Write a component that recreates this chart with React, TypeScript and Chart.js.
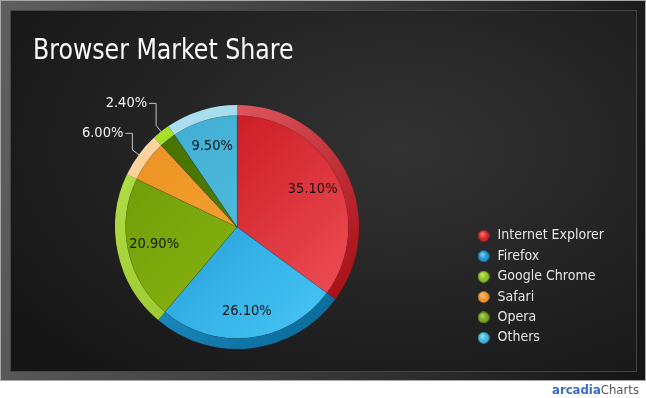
import React, { useEffect, useRef } from 'react';
import { Chart, registerables } from 'chart.js';

Chart.register(...registerables);

// ---- data ----
const TITLE = 'Browser Market Share';
const BROWSERS = ['Internet Explorer', 'Firefox', 'Google Chrome', 'Safari', 'Opera', 'Others'];
const SHARES = [35.1, 26.1, 20.9, 6.0, 2.4, 9.5];
const BRAND_A = 'arcadia';
const BRAND_B = 'Charts';

// ---- styles ----
const INNER_DARK = ['#c4121a', '#1a92d0', '#6e9a08', '#ec9222', '#467200', '#40acd2'];
const INNER_LIGHT = ['#ee4e56', '#46c4f4', '#92c012', '#f8ae3e', '#558600', '#5acae8'];
const RIM_LIGHT = ['#ea646c', '#2ea4dc', '#b2de46', '#fdd4a2', '#a6e22a', '#aee0f0'];
const RIM_DARK = ['#a60e14', '#0a6c9c', '#8cba1e', '#f4b070', '#88c012', '#7ec8e0'];
const LEGEND_BASE = ['#d22626', '#1e94d0', '#8cc020', '#f0902c', '#76a618', '#3eb6dc'];
const LEGEND_HI = ['#f87a7a', '#7cd0f6', '#c4e86a', '#fcc080', '#b0d85a', '#8adcf4'];

const FONT = '"DejaVu Sans Condensed", "DejaVu Sans", sans-serif';
const R_OUT = 122;
const RIM = 10.5;

const grad = (from: string[], to: string[]) => (c: any) => {
  const chart = c.chart;
  const a = chart.chartArea;
  if (!a) return to[c.dataIndex];
  const cx = (a.left + a.right) / 2;
  const cy = (a.top + a.bottom) / 2;
  const k = R_OUT * 0.75;
  const g = chart.ctx.createLinearGradient(cx - k, cy - k, cx + k, cy + k);
  g.addColorStop(0, from[c.dataIndex]);
  g.addColorStop(1, to[c.dataIndex]);
  return g;
};

function makeMarker(base: string, hi: string) {
  const cv = document.createElement('canvas');
  cv.width = 12;
  cv.height = 12;
  const c = cv.getContext('2d')!;
  const g = c.createRadialGradient(4.5, 3.8, 0.5, 6, 6, 6);
  g.addColorStop(0, hi);
  g.addColorStop(0.65, base);
  g.addColorStop(1, base);
  c.fillStyle = g;
  c.beginPath();
  c.arc(6, 6, 5.7, 0, Math.PI * 2);
  c.fill();
  return cv;
}

const titlePlugin = {
  id: 'panelTitle',
  afterDraw(chart: any) {
    const c = chart.ctx;
    c.save();
    c.font = `28px ${FONT}`;
    c.fillStyle = '#fafafa';
    c.textBaseline = 'alphabetic';
    c.textAlign = 'left';
    c.translate(33, 59);
    c.scale(0.94, 1);
    c.fillText(TITLE, 0, 0);
    c.restore();
  },
};

const labelsPlugin = {
  id: 'sliceLabels',
  afterDatasetsDraw(chart: any) {
    const ctx = chart.ctx;
    const inner = chart.getDatasetMeta(1).data;
    const rim = chart.getDatasetMeta(0).data;
    ctx.save();
    ctx.font = `14.5px ${FONT}`;
    inner.forEach((arc: any, i: number) => {
      const p = arc.getProps(['x', 'y', 'startAngle', 'endAngle', 'outerRadius'], true);
      const mid = (p.startAngle + p.endAngle) / 2;
      const dx = Math.cos(mid);
      const dy = Math.sin(mid);
      const text = SHARES[i].toFixed(2) + '%';
      if (SHARES[i] >= 8) {
        const r = p.outerRadius * 0.76;
        ctx.fillStyle = '#151515';
        ctx.textAlign = 'center';
        ctx.textBaseline = 'middle';
        ctx.fillText(text, p.x + dx * r, p.y + dy * r);
      } else {
        const R = rim[i].outerRadius;
        const x0 = p.x + dx * (R - 1);
        const y0 = p.y + dy * (R - 1);
        const x1 = p.x + dx * (R + 8);
        const y1 = p.y + dy * (R + 8);
        const ly = p.y + dy * (R + 36);
        const x3 = x1 - 7;
        ctx.strokeStyle = '#c4c4c4';
        ctx.lineWidth = 1;
        ctx.beginPath();
        ctx.moveTo(x0, y0);
        ctx.lineTo(x1, y1);
        ctx.lineTo(x1, ly);
        ctx.lineTo(x3, ly);
        ctx.stroke();
        ctx.fillStyle = '#f2f2f2';
        ctx.textAlign = 'right';
        ctx.textBaseline = 'middle';
        ctx.fillText(text, x3 - 2, ly);
      }
    });
    ctx.restore();
  },
};

export default function App() {
  const ref = useRef<HTMLCanvasElement | null>(null);

  useEffect(() => {
    if (!ref.current) return;
    const markers = BROWSERS.map((_, i) => makeMarker(LEGEND_BASE[i], LEGEND_HI[i]));
    const chart = new Chart(ref.current, {
      type: 'pie',
      data: {
        labels: BROWSERS,
        datasets: [
          {
            data: SHARES,
            weight: RIM,
            radius: R_OUT,
            backgroundColor: grad(RIM_LIGHT, RIM_DARK),
            borderWidth: 0,
          } as any,
          {
            data: SHARES,
            weight: R_OUT - RIM,
            radius: R_OUT,
            backgroundColor: grad(INNER_DARK, INNER_LIGHT),
            borderWidth: 0.8,
            borderColor: 'rgba(0,0,0,0.18)',
          } as any,
        ],
      },
      options: {
        responsive: false,
        animation: false,
        devicePixelRatio: 1,
        events: [],
        layout: { padding: { top: 102.8, bottom: 46.8, left: 3.9, right: 32 } },
        plugins: {
          title: { display: false },
          tooltip: { enabled: false },
          legend: {
            position: 'right',
            align: 'end',
            labels: {
              usePointStyle: true,
              padding: 6.4,
              color: '#e6e6e6',
              font: { family: FONT, size: 14 },
              generateLabels: () =>
                BROWSERS.map((text, i) => ({
                  text,
                  fillStyle: LEGEND_BASE[i],
                  strokeStyle: LEGEND_BASE[i],
                  lineWidth: 0,
                  pointStyle: markers[i] as any,
                  hidden: false,
                  index: i,
                  fontColor: '#e6e6e6',
                })),
            },
          },
        },
      } as any,
      plugins: [labelsPlugin, titlePlugin],
    });
    return () => chart.destroy();
  }, []);

  return (
    <div style={{ position: 'fixed', left: 0, top: 0, width: 646, height: 398, background: '#ffffff', overflow: 'hidden' }}>
      <div
        style={{
          position: 'absolute', left: 0, top: 0, width: 646, height: 381, boxSizing: 'border-box',
          border: '1px solid #a8a8a8',
          background: 'linear-gradient(100deg, #5f5f5f 0%, #3e3e3e 45%, #141414 100%)',
        }}
      />
      <div
        style={{
          position: 'absolute', left: 10, top: 10, width: 627, height: 362, boxSizing: 'border-box',
          border: '1px solid #454545',
          background: 'radial-gradient(ellipse 75% 80% at 62% 38%, #333333 0%, #262626 45%, #161616 100%)',
        }}
      />
      <canvas ref={ref} width={646} height={398} style={{ position: 'absolute', left: 0, top: 0, width: 646, height: 398 }} />
      <div
        style={{
          position: 'absolute', right: 7, top: 382, fontFamily: FONT, fontSize: 13, lineHeight: '16px', whiteSpace: 'nowrap',
        }}
      >
        <span style={{ color: '#3a6cc6', fontWeight: 'bold' }}>{BRAND_A}</span>
        <span style={{ color: '#555555' }}>{BRAND_B}</span>
      </div>
    </div>
  );
}
